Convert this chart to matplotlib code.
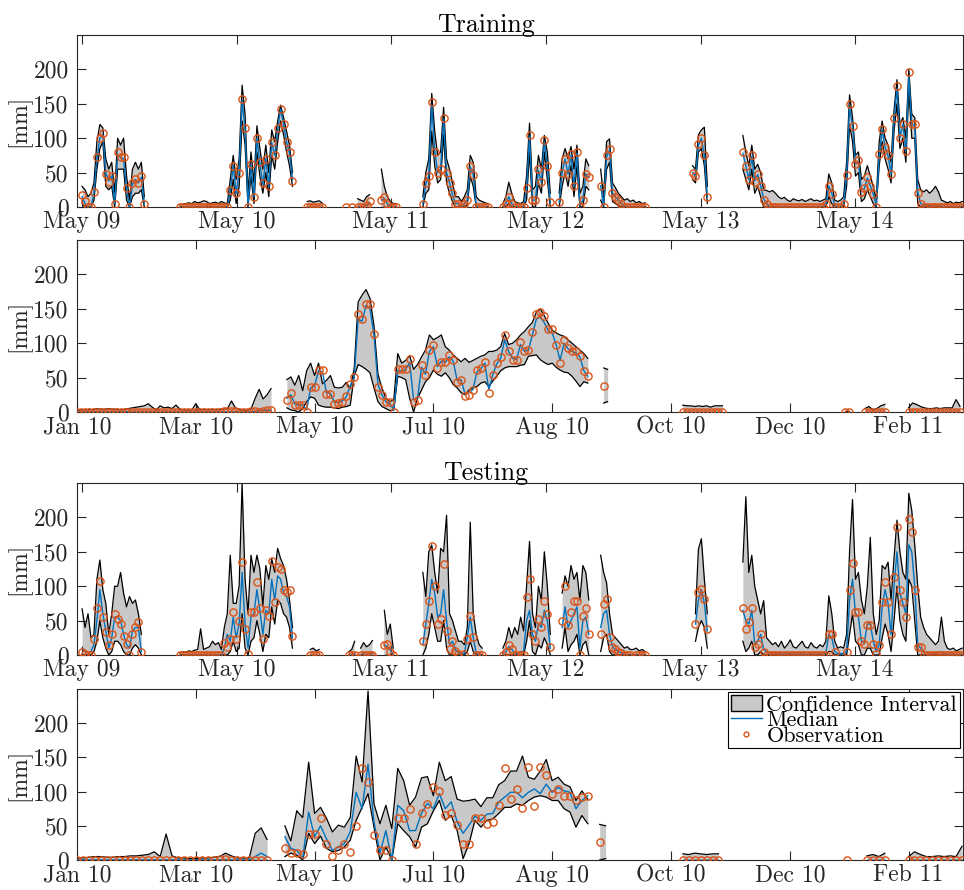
import numpy as np
import matplotlib
matplotlib.use('Agg')
import matplotlib.pyplot as plt
from matplotlib.patches import Patch
from matplotlib.lines import Line2D

plt.rcParams['font.family'] = ['cmr10', 'DejaVu Serif']
plt.rcParams['axes.formatter.use_mathtext'] = True
plt.rcParams['mathtext.fontset'] = 'cm'

nan = float('nan')

# ---------------- Panel 1 (Training, weekly samples; start = week index from May 09)
P1_START = [0, 33, 76, 89, 115, 142, 161, 175, 206, 223]
P1_OBS = [
    [18, 8, 0, 0, 22, 72, 100, 107, 48, 36, 45, 5, 80, 73, 72, 27, 0, 35, 40, 35, 45, 5],
    [0, 0, 0, 0, 0, 0, 0, 0, 0, 0, 0, 0, 0, 0, 0, 0, 0,
     25, 60, 20, 50, 157, 115, 0, 62, 15, 100, 65, 35, 70, 30, 95, 75, 115, 143, 120, 95, 80, 38],
    [0, 0, 0, 0, 0, 0],
    [0, nan, 0, nan, 0, 0, 0, 3, 8, nan, nan, nan, 10, 15, 5, 0, 0, 0],
    [5, 35, 45, 152, 80, 50, 55, 130, 50, 35, 20, 5, 5, 0, 5, 10, 60, 47, 0, 0, 0, 0, 0],
    [0, 5, 15, 5, 0, 0, 0, 0, 28, 105, 10, 10, 55, 36, 97, 60, 7],
    [7, 50, 70, 48, 77, 31, 80, 0, 10, 48, 43],
    [31, 0, 75, 85, 20, 15, 10, 5, 0, 0, 0, 0, 0, 0, 0, 0],
    [50, 45, 92, 100, 75, 14],
    [80, 60, 39, 75, 36, 48, 31, 10, 5,
     0, 0, 0, 0, 0, 0, 0, 0, 0, 0, 0, 0, 0, 0, 0, 0, 0, 0, 0,
     5, 31, 19, 0, 0, 0, 5, 46, 150, 118, 63, 68, 22, 27, 43, 31, 19, 0, 77, 114,
     87, 75, 48, 130, 176, 101, 121, 82, 196, 121, 121, 20, 5,
     0, 0, 0, 0, 0, 0, 0, 0, 0, 0, 0, 0, 0, 0],
]
P1_HI = [
    [30, 25, 15, 20, 35, 95, 120, 115, 70, 55, 65, 20, 100, 90, 100, 45, 10, 55, 65, 55, 65, 15],
    [3, 4, 5, 6, 5, 8, 6, 7, 9, 8, 5, 6, 7, 5, 8, 6, 5,
     40, 75, 40, 70, 177, 135, 20, 80, 35, 118, 85, 55, 90, 50, 112, 95, 125, 148, 130, 110, 90, 50],
    [8, 9, 7, 8, 9, 6],
    [8, nan, 10, nan, 12, 10, 8, 15, 18, nan, nan, nan, 55, 30, 15, 8, 5, 5],
    [15, 50, 70, 165, 110, 75, 80, 145, 70, 55, 35, 15, 15, 8, 15, 25, 75, 65, 15, 10, 8, 6, 5],
    [5, 15, 36, 20, 8, 6, 5, 8, 45, 122, 25, 30, 75, 55, 104, 80, 20],
    [20, 70, 85, 70, 88, 55, 90, 20, 30, 70, 60],
    [55, 15, 95, 99, 35, 28, 20, 15, 10, 12, 8, 10, 6, 8, 5, 6],
    [60, 55, 105, 112, 116, 30],
    [104, 80, 60, 90, 55, 62, 50, 25, 24,
     22, 24, 20, 15, 12, 14, 10, 8, 12, 10, 9, 11, 8, 10, 12, 9, 10, 8, 10,
     12, 48, 35, 10, 8, 10, 15, 65, 163, 130, 75, 80, 40, 45, 60, 45, 30, 10, 95, 125,
     100, 90, 65, 140, 185, 120, 130, 100, 200, 135, 130, 40, 25,
     22, 25, 20, 24, 30, 22, 10, 8, 6, 8, 5, 7, 6, 8],
]
P1_LO = [
    [5, 0, 0, 0, 10, 55, 85, 95, 30, 25, 30, 0, 55, 55, 55, 10, 0, 15, 20, 20, 25, 0],
    [0, 0, 0, 0, 0, 0, 0, 0, 0, 0, 0, 0, 0, 0, 0, 0, 0,
     10, 40, 5, 30, 125, 90, 0, 45, 5, 80, 45, 20, 50, 15, 75, 55, 95, 125, 105, 80, 60, 30],
    [0, 0, 0, 0, 0, 0],
    [0, nan, 0, nan, 0, 0, 0, 0, 0, nan, nan, nan, 0, 0, 0, 0, 0, 0],
    [0, 20, 25, 110, 60, 35, 40, 105, 35, 20, 8, 0, 0, 0, 0, 3, 45, 30, 0, 0, 0, 0, 0],
    [0, 0, 5, 0, 0, 0, 0, 0, 10, 80, 0, 0, 35, 20, 80, 40, 0],
    [0, 30, 50, 30, 60, 15, 60, 0, 0, 30, 25],
    [10, 0, 55, 65, 8, 5, 2, 0, 0, 0, 0, 0, 0, 0, 0, 0],
    [40, 35, 80, 85, 60, 5],
    [55, 40, 25, 55, 20, 30, 15, 0, 0,
     0, 0, 0, 0, 0, 0, 0, 0, 0, 0, 0, 0, 0, 0, 0, 0, 0, 0, 0,
     0, 15, 5, 0, 0, 0, 0, 30, 120, 95, 45, 50, 8, 12, 25, 15, 5, 0, 60, 95,
     70, 55, 35, 110, 150, 85, 100, 65, 170, 100, 100, 5, 0,
     0, 0, 0, 0, 0, 0, 0, 0, 0, 0, 0, 0, 0, 0],
]
P1_MED = [
    [15, 5, 0, 0, 20, 70, 100, 105, 50, 38, 45, 5, 75, 72, 70, 25, 0, 33, 40, 35, 43, 5],
    [0, 0, 0, 0, 0, 0, 0, 0, 0, 0, 0, 0, 0, 0, 0, 0, 0,
     22, 60, 20, 50, 155, 113, 3, 60, 15, 100, 63, 33, 70, 30, 93, 75, 113, 142, 120, 95, 78, 40],
    [0, 0, 0, 0, 0, 0],
    [0, nan, 0, nan, 0, 0, 0, 3, 6, nan, nan, nan, 10, 12, 5, 0, 0, 0],
    [5, 33, 45, 148, 82, 50, 55, 128, 50, 35, 18, 5, 5, 0, 5, 10, 58, 47, 2, 0, 0, 0, 0],
    [0, 5, 15, 5, 0, 0, 0, 0, 25, 103, 10, 10, 53, 36, 95, 60, 7],
    [7, 50, 70, 48, 75, 31, 78, 2, 10, 48, 43],
    [31, 2, 73, 83, 20, 15, 10, 5, 2, 0, 0, 0, 0, 0, 0, 0],
    [50, 45, 90, 100, 75, 15],
    [78, 60, 40, 73, 38, 47, 31, 12, 5,
     0, 0, 0, 0, 0, 0, 0, 0, 0, 0, 0, 0, 0, 0, 0, 0, 0, 0, 0,
     5, 30, 20, 2, 0, 0, 5, 45, 145, 118, 63, 66, 24, 27, 42, 31, 19, 2, 75, 112,
     87, 74, 48, 128, 172, 101, 120, 82, 190, 121, 118, 22, 5,
     3, 3, 2, 2, 3, 2, 1, 0, 0, 0, 0, 0, 0, 0],
]

# ---------------- Panel 3 (Testing, weekly samples)
P3_START = [0, 33, 77, 90, 115, 142, 162, 175, 207, 223]
P3_OBS = [
    [5, 2, 0, 0, 23, 69, 108, 55, 33, 14, 30, 60, 52, 45, 28, 16, 0, 31, 40, 48, 4],
    [0, 0, 0, 0, 0, 0, 0, 0, 0, 0, 0, 0, 0, 0, 0,
     18, 11, 23, 62, 23, 50, 135, 38, 1, 62, 62, 106, 69, 23, 65, 57, 137, 77, 128, 125, 94, 91, 94, 27],
    [0, 0, 0, 0],
    [0, 0, 0, nan, 0, 0, 0, 0, 0, nan, nan, nan, 14, 16, 4, 0],
    [20, 45, 79, 159, 101, 45, 52, 132, 35, 9, 21, 6, 1, nan, 1, 23, 57, 26, 0, 0, 0],
    [0, 5, 15, 8, 0, 0, 0, 0, 84, 111, 30, 21, 52, 40, 79, 60, 11],
    [50, 101, 43, 62, 79, 79, 0, 57, 69, 31],
    [31, 74, 82, 26, 12, 8, 5, 3, 0, 0, 0, nan, 0, 0, 0, 0],
    [45, 91, 96, 82, 38],
    [69, 38, 48, 69, 11, 16, 31, 5,
     0, 0, 0, 0, 0, 0, 0, 0, 0, 0, 0, 0, 0, 0, 0, 0, 0, 0, 0, 0, 0,
     31, 31, 4, nan, nan, nan,
     4, 94, 133, 62, 62, 21, 16, 43, 43, 16, 1, 14, 77, 106, 77, 31, 113, 186, 94, 77,
     55, 197, 179, 94, 11, 11,
     0, 0, 0, 0, 0, 0, 0, 0, 0, 0, 0, 0, 0, 0],
]
P3_HI = [
    [67, 40, 60, 25, 30, 110, 138, 95, 75, 30, 60, 100, 100, 120, 90, 70, 85, 75, 80, 60, 30],
    [3, 5, 4, 6, 5, 7, 8, 38, 8, 10, 12, 20, 15, 18, 8,
     40, 60, 145, 75, 75, 100, 250, 110, 60, 145, 120, 145, 125, 70, 130, 110, 140, 120, 155, 140, 130, 110, 80, 40],
    [8, 10, 6, 8],
    [5, 8, 20, nan, 10, 18, 12, 15, 21, nan, nan, nan, 65, 30, 45, 10],
    [120, 85, 150, 160, 120, 90, 155, 150, 203, 60, 50, 35, 20, 20, 15, 40, 193, 60, 30, 15, 10],
    [10, 20, 40, 25, 40, 30, 55, 35, 100, 165, 60, 40, 100, 80, 150, 100, 30],
    [90, 115, 100, 130, 110, 120, 80, 130, 120, 80],
    [145, 120, 105, 60, 30, 25, 20, 15, 10, 12, 8, 8, 10, 6, 8, 5],
    [60, 154, 169, 110, 60],
    [135, 230, 120, 145, 100, 80, 60, 79,
     25, 20, 15, 18, 12, 20, 10, 15, 22, 12, 10, 15, 20, 12, 10, 18, 12, 10, 15, 12, 20,
     86, 60, 20, 10, 12, 10,
     30, 150, 226, 110, 120, 80, 60, 100, 171, 60, 30, 50, 130, 125, 135, 80, 140, 196, 150, 120,
     110, 235, 210, 160, 100, 55,
     40, 30, 25, 20, 15, 20, 55, 20, 10, 8, 10, 6, 8, 10],
]
P3_LO = [
    [0, 0, 0, 0, 5, 20, 50, 25, 10, 0, 5, 20, 20, 15, 5, 0, 0, 10, 15, 10, 0],
    [0, 0, 0, 0, 0, 0, 0, 0, 0, 0, 0, 0, 0, 0, 0,
     0, 0, 5, 20, 5, 10, 60, 10, 0, 20, 25, 50, 30, 5, 30, 25, 70, 45, 80, 75, 60, 55, 40, 10],
    [0, 0, 0, 0],
    [0, 0, 0, nan, 0, 0, 0, 0, 0, nan, nan, nan, 0, 0, 0, 0],
    [0, 10, 30, 60, 40, 20, 20, 50, 10, 0, 0, 0, 0, 0, 0, 5, 20, 5, 0, 0, 0],
    [0, 0, 0, 0, 0, 0, 0, 0, 20, 50, 5, 0, 15, 10, 25, 15, 0],
    [10, 40, 5, 15, 20, 30, 0, 15, 20, 0],
    [5, 25, 30, 5, 0, 0, 0, 0, 0, 0, 0, 0, 0, 0, 0, 0],
    [20, 40, 50, 40, 10],
    [20, 5, 10, 20, 0, 0, 5, 0,
     0, 0, 0, 0, 0, 0, 0, 0, 0, 0, 0, 0, 0, 0, 0, 0, 0, 0, 0, 0, 0,
     5, 5, 0, 0, 0, 0,
     0, 30, 60, 20, 15, 0, 0, 10, 10, 0, 0, 0, 25, 45, 30, 5, 50, 100, 50, 30,
     20, 110, 100, 50, 0, 0,
     0, 0, 0, 0, 0, 0, 0, 0, 0, 0, 0, 0, 0, 0],
]
P3_MED = [
    [10, 5, 3, 5, 15, 50, 95, 60, 35, 10, 25, 55, 55, 50, 30, 15, 10, 35, 40, 40, 5],
    [0, 0, 0, 0, 0, 0, 0, 0, 0, 0, 0, 0, 0, 0, 0,
     10, 30, 20, 55, 25, 45, 120, 45, 10, 55, 60, 95, 65, 30, 65, 60, 110, 80, 115, 110, 90, 85, 70, 25],
    [0, 0, 0, 0],
    [0, 0, 2, nan, 0, 2, 0, 0, 3, nan, nan, nan, 15, 12, 8, 0],
    [15, 45, 75, 110, 90, 55, 60, 95, 50, 15, 20, 8, 3, 3, 2, 25, 55, 25, 3, 0, 0],
    [2, 5, 12, 8, 3, 2, 5, 5, 50, 65, 30, 20, 45, 40, 65, 50, 10],
    [40, 70, 40, 50, 60, 70, 10, 50, 55, 30],
    [40, 60, 65, 30, 12, 8, 5, 3, 1, 0, 0, 0, 0, 0, 0, 0],
    [45, 80, 95, 75, 35],
    [65, 50, 45, 65, 15, 20, 30, 8,
     5, 3, 2, 2, 2, 2, 1, 2, 2, 1, 1, 2, 2, 1, 1, 2, 1, 1, 2, 1, 3,
     30, 25, 5, 2, 2, 2,
     5, 80, 110, 60, 55, 20, 18, 45, 45, 20, 5, 15, 70, 95, 75, 30, 100, 150, 90, 75,
     60, 160, 150, 100, 15, 10,
     5, 4, 3, 3, 2, 3, 5, 2, 1, 1, 1, 0, 0, 0],
]

# ---------------- Panel 2 (Training, 2-day samples; start = day index)
P2_START = [0, 106, 266, 306, 388, 398, 420]
P2_OBS = [
    [0, 0, 0, 0, 0, 0, 0, 0, 0, 0, 0, 0, 0, 0, 0, 0, 0, 0, 0, 0, 0, 0, 0, 0, 0,
     0, 0, 0, 0, 0, 0, 0, 0, 0, 0, 0, 0, 1, 2, 2, 1, 0, 0, 0, 1, 1, 0, 2, 3, 3],
    [18, 27, 10, 10, 10, 0, 37, 37, 61, 61, 26, 26, 12, 13, 15, 23, 40, 51, 142, 135,
     157, 157, 114, 37, 25, 15, 15, 0, 62, 62, 62, 77, 15, 18, 69, 54, 90, 98, 64, 73,
     73, 83, 76, 44, 47, 23, 25, 32, 61, 64, 73, 28, 54, 71, 80, 112, 88, 76, 76, 102,
     89, 90, 117, 143, 146, 139, 120, 120, 98, 71, 105, 93, 88, 88, 81, 59, 52],
    [38, nan],
    [0, 0, 0, 0, 0, 0, 0, 0, 0, 0, 0],
    [0, 0],
    [0, 0, 0, 0, 0, 0],
    [0, 0, 0, 0, 0, 0, 0, 0, 0, 0, 0, 0, 0, 0],
]
P2_HI = [
    [2, 3, 3, 4, 3, 5, 4, 4, 5, 4, 4, 3, 4, 5, 6, 7, 8, 9, 12, 7, 3, 9, 6, 7, 5,
     10, 4, 3, 3, 3, 12, 3, 4, 3, 4, 3, 4, 4, 5, 16, 6, 4, 3, 2, 5, 20, 33, 19, 25, 34],
    [47, 51, 39, 53, 31, 60, 71, 53, 71, 41, 46, 53, 36, 35, 36, 43, 34, 63, 160, 170,
     178, 165, 125, 55, 35, 20, 15, 18, 85, 71, 75, 82, 62, 69, 80, 90, 112, 105, 108, 112,
     95, 90, 83, 78, 73, 78, 72, 75, 78, 81, 83, 88, 88, 90, 95, 114, 98, 100, 105, 112,
     117, 124, 130, 145, 150, 140, 129, 119, 115, 112, 110, 105, 100, 95, 90, 85, 78],
    [64, 62],
    [10, 9, 9, 8, 9, 8, 9, 7, 9, 9, 9],
    [1, 1],
    [5, 8, 3, 5, 9, 11],
    [6, 13, 11, 8, 6, 5, 5, 6, 5, 6, 6, 6, 18, 8],
]
P2_LO = [
    [0, 0, 0, 0, 0, 0, 0, 0, 0, 0, 0, 0, 0, 0, 0, 0, 0, 0, 0, 0, 0, 0, 0, 0, 0,
     0, 0, 0, 0, 0, 0, 0, 0, 0, 0, 0, 0, 0, 0, 0, 0, 0, 0, 0, 0, 0, 0, 0, 0, 0],
    [6, 3, 2, 0, 5, 15, 22, 20, 10, 8, 7, 7, 6, 5, 7, 8, 10, 52, 69, 66,
     62, 57, 35, 15, 8, 5, 2, 3, 52, 50, 47, 20, 0, 20, 32, 44, 50, 61, 55, 52,
     57, 50, 40, 35, 28, 25, 32, 35, 37, 42, 44, 37, 45, 52, 60, 64, 66, 66, 66, 68,
     69, 81, 82, 83, 76, 72, 69, 71, 65, 61, 58, 57, 52, 45, 37, 44, 42],
    [13, 15],
    [0, 0, 0, 0, 0, 0, 0, 0, 0, 0, 0],
    [0, 0],
    [0, 0, 0, 0, 0, 0],
    [0, 0, 0, 0, 0, 0, 0, 0, 0, 0, 0, 0, 0, 0],
]
P2_MED = [
    [0, 0, 0, 0, 0, 0, 0, 0, 0, 0, 0, 0, 0, 0, 0, 0, 0, 0, 0, 0, 0, 0, 0, 0, 0,
     0, 0, 0, 0, 0, 0, 0, 0, 0, 0, 0, 0, 0, 0, 0, 0, 0, 0, 0, 0, 1, 2, 3, 2, 3],
    [20, 25, 12, 10, 10, 3, 35, 38, 60, 58, 28, 27, 14, 14, 16, 22, 38, 50, 135, 132,
     155, 150, 112, 40, 25, 15, 12, 3, 60, 60, 62, 72, 18, 20, 65, 55, 88, 95, 66, 74,
     72, 80, 74, 46, 47, 26, 28, 33, 58, 63, 71, 32, 54, 70, 78, 105, 88, 78, 76, 98,
     88, 90, 112, 135, 138, 130, 118, 115, 98, 75, 100, 92, 88, 86, 80, 60, 52],
    [nan, nan],
    [0, 0, 0, 0, 0, 0, 0, 0, 0, 0, 0],
    [0, 0],
    [0, 0, 0, 0, 0, 0],
    [0, 0, 0, 0, 0, 0, 0, 0, 0, 0, 0, 0, 0, 0],
]

# ---------------- Panel 4 (Testing, 3-day samples; start = day index)
P4_START = [0, 105, 264, 306, 389, 399, 420]
P4_OBS = [
    [0, 0, 0, 0, 0, 0, 0, 0, 0, 0, 0, 0, 0, 0, 0, 0, 0, 0, 0, 0, 0, 0, 0, 0, 2, 2,
     0, 0, 0, 0, 0, 0, 0],
    [17, 10, 10, 9, 38, 38, 62, 24, 6, 15, 23, 11, 50, 134, 114, 37, 15, 14, 0, 62,
     62, 75, 23, 69, 82, 106, 101, 66, 69, 51, 23, 23, 62, 62, 52, 56, 80, 134, 89, 104,
     76, 136, 79, 136, 124, 97, 104, 93, 94, 88, 92, 93],
    [26, nan],
    [0, 0, 0, 0, 0, 0, 0],
    [0],
    [0, 0, 0, 0],
    [0, 0, 0, 0, 0, 0, 0, 0, 0, 0],
]
P4_HI = [
    [3, 3, 4, 5, 5, 4, 4, 5, 5, 6, 6, 7, 8, 12, 5, 38, 6, 3, 3, 2, 2, 3, 3, 4, 5, 10,
     6, 3, 3, 3, 39, 47, 30],
    [50, 28, 72, 62, 143, 68, 77, 61, 41, 51, 48, 62, 152, 114, 247, 82, 53, 80, 46, 134,
     116, 80, 92, 120, 122, 94, 143, 116, 122, 89, 86, 87, 89, 78, 91, 91, 110, 116, 130, 130,
     152, 121, 118, 130, 147, 116, 121, 111, 107, 87, 101, 89],
    [52, 50],
    [9, 8, 10, 9, 8, 9, 9],
    [1],
    [6, 8, 5, 10],
    [5, 12, 8, 5, 5, 6, 5, 6, 5, 20],
]
P4_LO = [
    [0, 0, 0, 0, 0, 0, 0, 0, 0, 0, 0, 0, 0, 0, 0, 0, 0, 0, 0, 0, 0, 0, 0, 0, 0, 0,
     0, 0, 0, 0, 0, 0, 0],
    [5, 10, 7, 0, 39, 24, 35, 17, 12, 14, 19, 29, 58, 77, 97, 48, 0, 19, 0, 53,
     43, 34, 19, 48, 53, 72, 87, 58, 65, 43, 2, 24, 58, 48, 58, 60, 68, 77, 77, 82,
     80, 87, 92, 94, 92, 87, 87, 75, 70, 48, 65, 53],
    [0, 2],
    [0, 0, 0, 0, 0, 0, 0],
    [0],
    [0, 0, 0, 0],
    [0, 0, 0, 0, 0, 0, 0, 0, 0, 0],
]
P4_MED = [
    [0, 0, 0, 0, 0, 0, 0, 0, 0, 0, 0, 0, 0, 0, 0, 0, 0, 0, 0, 0, 0, 0, 0, 0, 0, 0,
     0, 0, 0, 0, 5, 10, 5],
    [34, 17, 14, 2, 70, 34, 50, 31, 14, 19, 24, 41, 99, 75, 140, 56, 10, 43, 0, 80,
     72, 43, 43, 68, 83, 75, 97, 75, 85, 56, 39, 51, 64, 58, 67, 68, 85, 92, 99, 99,
     91, 99, 104, 97, 111, 99, 106, 101, 99, 75, 87, 94],
    [nan, nan],
    [0, 0, 0, 0, 0, 0, 0],
    [0],
    [0, 0, 0, 0],
    [0, 0, 0, 0, 0, 0, 0, 0, 0, 0],
]

# ---------------- Axis tick labels
P1_TICK_DAYS = [0, 365, 730, 1096, 1461, 1826]
P1_TICK_LABELS = ['May 09', 'May 10', 'May 11', 'May 12', 'May 13', 'May 14']
P2_TICK_DAYS = [0, 60, 120, 180, 240, 300, 360, 420]
P2_TICK_LABELS = ['Jan 10', 'Mar 10', 'May 10', 'Jul 10', 'Aug 10', 'Oct 10', 'Dec 10', 'Feb 11']
Y_TICKS = [0, 50, 100, 150, 200]

C_FILL = '#c8c8c8'
C_MED = '#0072BD'
C_OBS = '#D95319'
C_AX = '#262626'
FS = 17


def draw_panel(ax, starts, step_days, obs, med, lo, hi):
    for s, o, m, l, h in zip(starts, obs, med, lo, hi):
        n = len(o)
        x = (s + np.arange(n)) * step_days if step_days == 7 else s + np.arange(n) * step_days
        o = np.array(o, float); m = np.array(m, float)
        l = np.array(l, float); h = np.array(h, float)
        ax.fill_between(x, l, h, color=C_FILL, linewidth=0, zorder=1)
        ax.plot(x, h, color='k', lw=0.9, zorder=2)
        ax.plot(x, l, color='k', lw=0.9, zorder=2)
        ax.plot(x, m, color=C_MED, lw=1.0, zorder=3)
        ax.plot(x, o, 'o', mfc='none', mec=C_OBS, ms=5.2, mew=1.0, zorder=4)


def style(ax, xticks, xlabels, xlim):
    ax.set_xlim(*xlim)
    ax.set_ylim(0, 250)
    ax.set_yticks(Y_TICKS)
    ax.set_yticklabels([str(v) for v in Y_TICKS])
    ax.set_xticks(xticks)
    ax.set_xticklabels(xlabels)
    ax.tick_params(direction='in', top=True, right=True, length=6.4, width=0.8,
                   labelsize=FS, colors=C_AX)
    ax.tick_params(axis='y', pad=6)
    ax.tick_params(axis='x', pad=3)
    for sp in ax.spines.values():
        sp.set_color(C_AX)
        sp.set_linewidth(0.8)
    ax.set_ylabel('[mm]', fontsize=FS, color=C_AX)
    ax.yaxis.set_label_coords(-0.052, 0.5)


fig = plt.figure(figsize=(9.64, 8.90), dpi=100)
L, W = 77 / 964, 886 / 964
ax1 = fig.add_axes([L, 1 - 207 / 890, W, 172 / 890])
ax2 = fig.add_axes([L, 1 - 412 / 890, W, 172 / 890])
ax3 = fig.add_axes([L, 1 - 655 / 890, W, 172 / 890])
ax4 = fig.add_axes([L, 1 - 860 / 890, W, 171 / 890])

draw_panel(ax1, P1_START, 7, P1_OBS, P1_MED, P1_LO, P1_HI)
draw_panel(ax2, P2_START, 2, P2_OBS, P2_MED, P2_LO, P2_HI)
draw_panel(ax3, P3_START, 7, P3_OBS, P3_MED, P3_LO, P3_HI)
draw_panel(ax4, P4_START, 3, P4_OBS, P4_MED, P4_LO, P4_HI)

for ax in (ax1, ax3):
    style(ax, P1_TICK_DAYS, P1_TICK_LABELS, (-12, 2081))
for ax in (ax2, ax4):
    style(ax, P2_TICK_DAYS, P2_TICK_LABELS, (0, 447.5))

ax1.set_title('Training', fontsize=18.7, color='k', pad=2, x=0.4616)
ax3.set_title('Testing', fontsize=18.7, color='k', pad=2, x=0.4616)

handles = [Patch(facecolor=C_FILL, edgecolor='k', linewidth=1.0),
           Line2D([], [], color=C_MED, lw=1.0),
           Line2D([], [], marker='o', ls='none', mfc='none', mec=C_OBS, ms=3.5, mew=1.0)]
leg = ax4.legend(handles, ['Confidence Interval', 'Median', 'Observation'],
                 loc='upper right', fontsize=16, frameon=True, fancybox=False,
                 edgecolor='k', framealpha=1, borderpad=0.12, labelspacing=-0.18,
                 handlelength=1.4, handletextpad=0.2, borderaxespad=0.15)
leg.get_frame().set_linewidth(0.8)

fig.savefig('out.png', dpi=100)
